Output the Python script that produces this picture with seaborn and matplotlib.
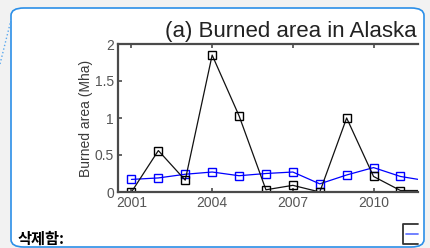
import matplotlib
matplotlib.use('Agg')
import matplotlib.pyplot as plt
from matplotlib.patches import FancyBboxPatch
from matplotlib.lines import Line2D
import seaborn as sns
import pandas as pd

## data
years = [2001, 2002, 2003, 2004, 2005, 2006, 2007, 2008, 2009, 2010, 2011, 2012]
observed = [0.0, 0.56, 0.16, 1.85, 1.03, 0.03, 0.09, 0.0, 1.0, 0.21, 0.02, 0.02]
modeled = [0.17, 0.19, 0.24, 0.27, 0.22, 0.25, 0.27, 0.11, 0.23, 0.33, 0.21, 0.15]
xticks = [2001, 2004, 2007, 2010]
yticks = [0, 0.5, 1, 1.5, 2]
ytick_labels = ['0', '0.5', '1', '1.5', '2']
title = '(a) Burned area in Alaska'
ylabel = 'Burned area (Mha)'
note = '삭제함:'

sns.set_style('white')
plt.rcParams['font.family'] = ['Liberation Sans', 'DejaVu Sans']

df = pd.DataFrame({'year': years, 'observed': observed, 'modeled': modeled})

W, H = 430, 248
fig = plt.figure(figsize=(W / 100, H / 100), dpi=100)
fig.patch.set_facecolor('#f2f2f2')

# white card behind the chart
card = FancyBboxPatch((11 / W, 1 / H), 413 / W, 239 / H,
                      boxstyle='round,pad=0,rounding_size=0.03',
                      transform=fig.transFigure, facecolor='white',
                      edgecolor='#2b8fe8', lw=1.2, zorder=-5)
fig.patches.append(card)
fig.add_artist(Line2D([0 / W, 11 / W], [1 - 64 / H, 1 - 20 / H],
                      transform=fig.transFigure, color='#5aa8ee', lw=1, ls=':'))

# axes cut off at x=418 like the screenshot
ax = fig.add_axes([118 / W, 1 - 192 / H, 300 / W, 148 / H], zorder=2)
ax.set_facecolor('white')

sns.lineplot(data=df, x='year', y='modeled', ax=ax, color='blue', lw=0.9,
             marker='s', markersize=6, markerfacecolor='none',
             markeredgecolor='blue', markeredgewidth=1)
sns.lineplot(data=df, x='year', y='observed', ax=ax, color='#111111', lw=0.9,
             marker='s', markersize=6, markerfacecolor='none',
             markeredgecolor='black', markeredgewidth=1)

ax.set_xlim(2000.5, 2000.5 + 300 / 26.9)
ax.set_ylim(0, 2)
ax.set_xticks(xticks)
ax.set_xticklabels([str(t) for t in xticks])
ax.set_yticks(yticks)
ax.set_yticklabels(ytick_labels)
ax.set_xlabel('')
ax.set_ylabel(ylabel, fontsize=10, color='#3a3a3a', labelpad=1)
ax.set_title(title, fontsize=16, color='#222222', pad=5, x=(291 - 118) / 300)

ax.spines['right'].set_visible(False)
for s in ['left', 'top', 'bottom']:
    ax.spines[s].set_color('#4a4a4a')
    ax.spines[s].set_linewidth(1.6)
ax.tick_params(direction='in', length=3, width=1.2, color='#4a4a4a',
               labelcolor='#555555', labelsize=10, top=True, left=True,
               bottom=True, pad=3)

# legend box cut off at the right edge
fig.add_artist(Line2D([418 / W, 403 / W, 403 / W, 418 / W],
                      [1 - 224 / H, 1 - 224 / H, 1 - 244 / H, 1 - 244 / H],
                      transform=fig.transFigure, color='#333333', lw=1.3))
fig.add_artist(Line2D([406 / W, 418 / W], [1 - 234 / H, 1 - 234 / H],
                      transform=fig.transFigure, color='#6677ff', lw=1.3))

fig.text(18 / W, 1 - 244 / H, note, fontsize=11, fontweight='heavy',
         family=['Noto Sans CJK KR', 'DejaVu Sans'], va='baseline', color='black')

fig.savefig('out.png', dpi=100, facecolor=fig.get_facecolor())
